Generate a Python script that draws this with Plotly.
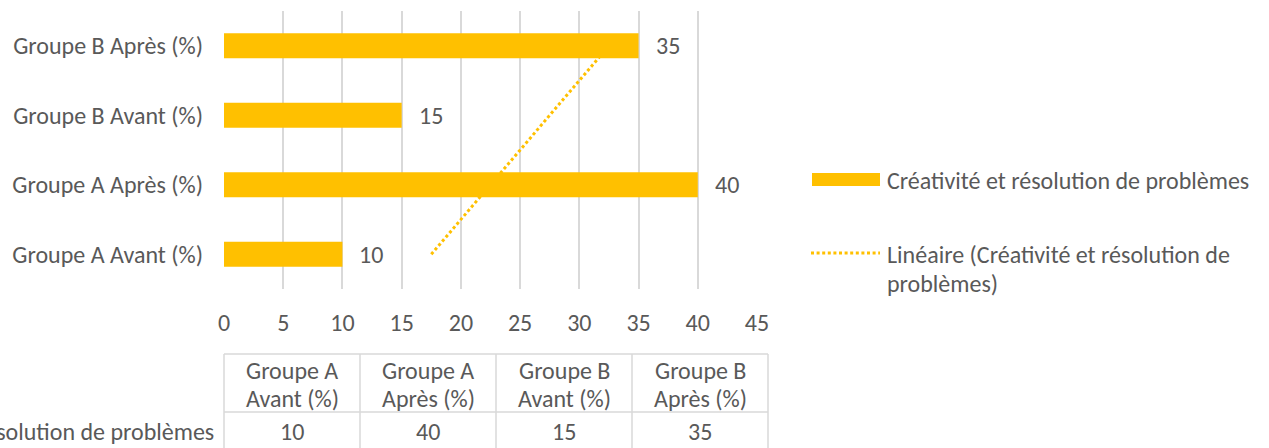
import numpy as np
import plotly.graph_objects as go

categories = ["Groupe A Avant (%)", "Groupe A Après (%)", "Groupe B Avant (%)", "Groupe B Après (%)"]
values = [10, 40, 15, 35]
series_name = "Créativité et résolution de problèmes"
trend_lines = ["Linéaire (Créativité et résolution de", "problèmes)"]
x_ticks = [0, 5, 10, 15, 20, 25, 30, 35, 40, 45]

GOLD = "#FFC000"
GRID = "#D9D9D9"
TEXT = "#595959"
FONT = "Carlito, Lato, sans-serif"
FS = 24
DOTS = dict(color=GOLD, width=3, dash="3px,2.6px")

# plot area in pixels
W, H = 1269, 448
L, R, T, B = 224, 757, 11, 289


def px(x):
    return (x - L) / (R - L)


def py(y):
    return (B - y) / (B - T)


def label(x, y, text, anchor="center"):
    return dict(x=px(x), y=py(y), xref="paper", yref="paper", text=text, showarrow=False,
                xanchor=anchor, yanchor="middle", font=dict(size=FS, color=TEXT))


# linear trendline (Excel "Linéaire")
idx = np.arange(1, len(values) + 1)
slope, intercept = np.polyfit(idx, values, 1)
trend = slope * idx + intercept

fig = go.Figure()

# trendline sits under the bars -> base axes
fig.add_trace(go.Scatter(
    x=trend, y=categories, mode="lines", line=DOTS,
    xaxis="x", yaxis="y", showlegend=False, hoverinfo="skip",
))

fig.add_trace(go.Bar(
    x=values, y=categories, orientation="h",
    marker=dict(color=GOLD, line=dict(width=0)),
    xaxis="x2", yaxis="y2", showlegend=False,
))

annotations = []
# data labels
for c, v in zip(categories, values):
    annotations.append(dict(x=v, y=c, xref="x", yref="y", text=str(v), showarrow=False,
                            xanchor="left", xshift=15, font=dict(size=FS, color=TEXT)))

shapes = []
# data table under the chart
col_w = 136
top, mid = 354, 412
edges = [L + i * col_w for i in range(len(categories) + 1)]
for e in edges:
    shapes.append(dict(type="line", xref="paper", yref="paper", x0=px(e), x1=px(e),
                       y0=py(top), y1=py(470), line=dict(color=GRID, width=1.5)))
for yy in (top, mid):
    shapes.append(dict(type="line", xref="paper", yref="paper", x0=px(edges[0]), x1=px(edges[-1]),
                       y0=py(yy), y1=py(yy), line=dict(color=GRID, width=1.5)))

for i, (c, v) in enumerate(zip(categories, values)):
    w = c.split(" ")
    cx = edges[i] + col_w / 2
    annotations.append(label(cx, 370, " ".join(w[:2])))
    annotations.append(label(cx, 398, " ".join(w[2:])))
    annotations.append(label(cx, 431, str(v)))
annotations.append(label(216, 431, series_name, "right"))

# legend (drawn by hand to get Excel's wide swatches)
shapes.append(dict(type="rect", xref="paper", yref="paper", x0=px(812), x1=px(880),
                   y0=py(186), y1=py(173), fillcolor=GOLD, line=dict(width=0)))
shapes.append(dict(type="line", xref="paper", yref="paper", x0=px(811), x1=px(880),
                   y0=py(253), y1=py(253), line=DOTS))
annotations.append(label(885, 180, series_name, "left"))
annotations.append(label(885, 254, trend_lines[0], "left"))
annotations.append(label(885, 283, trend_lines[1], "left"))

fig.update_layout(
    width=W, height=H,
    margin=dict(l=L, r=W - R, t=T, b=H - B, autoexpand=False),
    paper_bgcolor="white", plot_bgcolor="white",
    font=dict(family=FONT, size=FS, color=TEXT),
    bargap=0.64,
    showlegend=False,
    xaxis=dict(range=[0, 45], tickvals=x_ticks, showgrid=True, gridcolor=GRID, gridwidth=1.5,
               zeroline=False, showline=False, ticks="", ticklabelstandoff=17,
               tickfont=dict(size=FS, color=TEXT)),
    yaxis=dict(type="category", categoryorder="array", categoryarray=categories,
               range=[-0.5, len(categories) - 0.5], showgrid=False, zeroline=False,
               showline=False, ticks="", ticklabelstandoff=20,
               tickfont=dict(size=FS, color=TEXT)),
    xaxis2=dict(overlaying="x", range=[0, 45], visible=False, anchor="y2"),
    yaxis2=dict(overlaying="y", type="category", categoryorder="array", categoryarray=categories,
                range=[-0.5, len(categories) - 0.5], visible=False, anchor="x2"),
    shapes=shapes,
    annotations=annotations,
)

# the page body has a default 8px margin; drop it so the figure sits at (0, 0)
fig.write_html("out.html", config={"displayModeBar": False},
               post_script="document.body.style.margin='0';")
